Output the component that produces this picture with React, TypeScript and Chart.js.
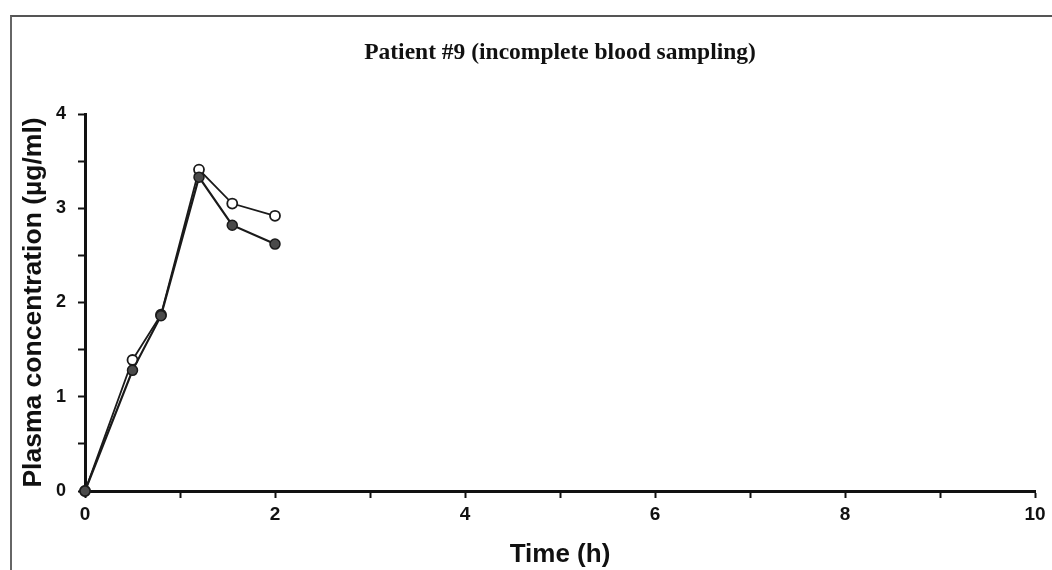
import React, { useEffect, useRef } from "react";
import { Chart, registerables } from "chart.js";

Chart.register(...registerables);

const times = [0, 0.5, 0.8, 1.2, 1.55, 2];
const openValues = [0, 1.39, 1.87, 3.41, 3.05, 2.92];
const filledValues = [0, 1.28, 1.86, 3.33, 2.82, 2.62];
const chartTitle = "Patient #9 (incomplete blood sampling)";
const xTitle = "Time (h)";
const yTitle = "Plasma concentration (\u00b5g/ml)";
const xLabelledTicks = [0, 2, 4, 6, 8, 10];
const yLabelledTicks = [0, 1, 2, 3, 4];

const SANS = '"Liberation Sans", Arial, Helvetica, sans-serif';
const SERIF = '"Liberation Serif", "Times New Roman", serif';

export default function App() {
  const canvasRef = useRef<HTMLCanvasElement | null>(null);

  useEffect(() => {
    const canvas = canvasRef.current;
    if (!canvas) return;
    const toPts = (vals: number[]) => times.map((t, i) => ({ x: t, y: vals[i] }));
    const chart = new Chart(canvas, {
      type: "line",
      data: {
        datasets: [
          {
            label: "filled",
            data: toPts(filledValues),
            borderColor: "#1a1a1a",
            borderWidth: 2.2,
            backgroundColor: "#4a4a4a",
            pointBackgroundColor: "#4a4a4a",
            pointBorderColor: "#1a1a1a",
            pointBorderWidth: 1.5,
            pointRadius: 5,
            tension: 0,
            clip: false,
            order: 0,
          },
          {
            label: "open",
            data: toPts(openValues),
            borderColor: "#1a1a1a",
            borderWidth: 1.8,
            backgroundColor: "#ffffff",
            pointBackgroundColor: "#ffffff",
            pointBorderColor: "#1a1a1a",
            pointBorderWidth: 1.8,
            pointRadius: 5,
            tension: 0,
            clip: false,
            order: 1,
          },
        ],
      },
      options: {
        animation: false,
        responsive: false,
        maintainAspectRatio: false,
        devicePixelRatio: 1,
        layout: { padding: { left: 0, right: 17, top: 0, bottom: 0 } },
        plugins: {
          legend: { display: false },
          tooltip: { enabled: false },
          title: {
            display: true,
            text: chartTitle,
            fullSize: false,
            color: "#111",
            font: { family: SERIF, size: 23.5, weight: "bold", lineHeight: 1.2 },
            padding: { top: 39, bottom: 46.8 },
          },
        },
        scales: {
          x: {
            type: "linear",
            min: 0,
            max: 10,
            afterFit: (s: any) => {
              s.height = 79;
            },
            ticks: {
              stepSize: 1,
              autoSkip: false,
              maxRotation: 0,
              padding: 5,
              color: "#111",
              font: { family: SANS, size: 19, weight: "bold", lineHeight: 1.2 },
              callback: (v: any) => (xLabelledTicks.includes(Number(v)) ? String(v) : ""),
            },
            grid: {
              drawOnChartArea: false,
              drawTicks: true,
              tickLength: 7,
              tickWidth: 2,
              tickColor: "#111",
              color: "#111",
            },
            border: { display: true, color: "#111", width: 3 },
            title: {
              display: true,
              text: xTitle,
              color: "#111",
              font: { family: SANS, size: 26, weight: "bold", lineHeight: 1.2 },
              padding: { top: 0, bottom: 0 },
            },
          },
          y: {
            type: "linear",
            min: 0,
            max: 4,
            afterFit: (s: any) => {
              s.width = 85;
            },
            ticks: {
              stepSize: 0.5,
              autoSkip: false,
              padding: 12,
              color: "#111",
              font: { family: SANS, size: 18, weight: "bold", lineHeight: 1.2 },
              callback: (v: any) => (yLabelledTicks.includes(Number(v)) ? String(v) : ""),
            },
            grid: {
              drawOnChartArea: false,
              drawTicks: true,
              tickLength: 7,
              tickWidth: 2,
              tickColor: "#111",
              color: "#111",
            },
            border: { display: true, color: "#111", width: 3 },
            title: {
              display: true,
              text: yTitle,
              color: "#111",
              font: { family: SANS, size: 26.5, weight: "bold", lineHeight: 1.2 },
              padding: { top: 18, bottom: 0 },
            },
          },
        },
      },
    } as any);
    return () => chart.destroy();
  }, []);

  return (
    <div
      style={{
        position: "fixed",
        left: 0,
        top: 0,
        width: 1052,
        height: 570,
        background: "#ffffff",
        overflow: "hidden",
      }}
    >
      <div
        style={{
          position: "absolute",
          left: 10,
          top: 15,
          width: 1100,
          height: 600,
          borderLeft: "2px solid #666",
          borderTop: "2px solid #555",
        }}
      />
      <canvas
        ref={canvasRef}
        width={1052}
        height={570}
        style={{ position: "absolute", left: 0, top: 0, width: 1052, height: 570 }}
      />
    </div>
  );
}
